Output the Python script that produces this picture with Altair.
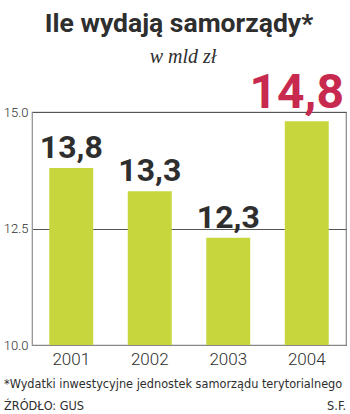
import altair as alt
import pandas as pd

years = ["2001", "2002", "2003", "2004"]
values = [13.8, 13.3, 12.3, 14.8]
labels = ["13,8", "13,3", "12,3", "14,8"]
highlight = [False, False, False, True]
y_ticks = [10.0, 12.5, 15.0]

title_text = "Ile wydają samorządy*"
subtitle_text = "w mld zł"
footnote_text = "*Wydatki inwestycyjne jednostek samorządu terytorialnego"
source_text = "ŹRÓDŁO: GUS"
author_text = "S.F."

df = pd.DataFrame({"year": years, "value": values, "label": labels, "hl": highlight})

W, H = 314, 233
BAR = "#c6d63c"
DARK = "#2e2e2e"
RED = "#c8294f"

x = alt.X("year:N", sort=years,
          scale=alt.Scale(paddingInner=0.44, paddingOuter=0.22),
          axis=alt.Axis(title=None, labelAngle=0, ticks=False, labelPadding=6,
                        labelFontSize=17, labelFont="Roboto", labelFontWeight=300,
                        labelColor=DARK, domainColor="#888", domainWidth=1.2))
y = alt.Y("value:Q", scale=alt.Scale(domain=[10, 15], nice=False, zero=False),
          axis=alt.Axis(title=None, values=y_ticks, format=".1f", ticks=False,
                        labelPadding=4, labelFontSize=13, labelFont="Roboto",
                        labelFontWeight=300, labelColor=DARK, grid=True,
                        gridColor="#555", gridWidth=1, domainColor="#999"))

bars = alt.Chart(df).mark_bar(color=BAR, clip=True).encode(x=x, y=y)

lab_normal = alt.Chart(df).transform_filter("!datum.hl").mark_text(
    font="Roboto", fontWeight="bold", fontSize=32, color=DARK,
    baseline="alphabetic", dy=-10
).encode(x=alt.X("year:N", sort=years), y="value:Q", text="label:N")

lab_hl = alt.Chart(df).transform_filter("datum.hl").mark_text(
    font="Roboto", fontWeight="bold", fontSize=48, color=RED,
    baseline="alphabetic", dy=-13, dx=-10
).encode(x=alt.X("year:N", sort=years), y="value:Q", text="label:N")

one = pd.DataFrame({"a": [0]})

def txt(t, xp, yp, **kw):
    return alt.Chart(one).mark_text(baseline="alphabetic", **kw).encode(
        x=alt.value(xp), y=alt.value(yp), text=alt.value(t))

title = txt(title_text, 147, -80, font="Roboto", fontWeight="bold", fontSize=26.5,
            color=DARK, align="center")
subtitle = txt(subtitle_text, 151, -49, font="Liberation Serif", fontStyle="italic",
               fontSize=20, color=DARK, align="center")
foot = txt(footnote_text, -28, 276, font="DejaVu Sans Condensed", fontSize=12.6,
           color=DARK, align="left")
src = txt(source_text, -28, 298, font="DejaVu Sans Condensed", fontSize=12.6,
          color=DARK, align="left")
auth = txt(author_text, 314, 298, font="DejaVu Sans Condensed", fontSize=12.6,
           color=DARK, align="right")

chart = alt.layer(bars, lab_normal, lab_hl, title, subtitle, foot, src, auth).properties(
    width=W, height=H,
    autosize=alt.AutoSizeParams(type="none"),
    padding={"left": 32, "top": 112, "right": 4, "bottom": 69},
    background="white",
).configure_view(stroke="#888", strokeWidth=1.2)

chart.save("out.html", embed_options={"renderer": "svg", "actions": False})
